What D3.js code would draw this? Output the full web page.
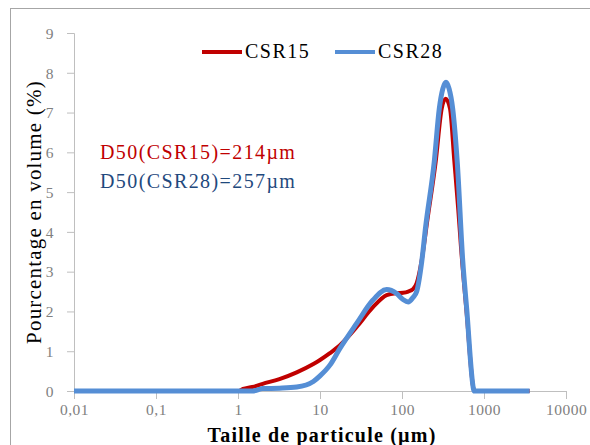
<!DOCTYPE html>
<html>
<head>
<meta charset="utf-8">
<script src="https://cdn.jsdelivr.net/npm/d3@7"></script>
<style>
  body { margin: 0; background: #fff; }
  svg { display: block; }
  svg text { font-family: 'Liberation Serif', 'DejaVu Serif', 'Noto Serif', 'Times New Roman', Times, FreeSerif, serif; }
</style>
</head>
<body>
<div id="chart"></div>
<script>
// particle size (µm) and volume % for each sample
const sizes15 = [0.01, 0.1, 1, 1.15, 1.5, 2, 3.2, 5.2, 8.3, 10, 13.2, 17.5, 28, 44, 65, 86, 103, 119, 136, 151, 174,
                 204, 257, 305, 341, 385, 434, 486, 525, 615, 745, 760, 1000, 3600];
const csr15 = [0, 0, 0, 0.05, 0.1, 0.18, 0.3, 0.47, 0.68, 0.78, 0.95, 1.15, 1.61, 2.1, 2.41, 2.46, 2.47, 2.5, 2.56, 2.71, 3.29,
               4.3, 5.75, 7.1, 7.35, 7.1, 5.8, 4.55, 3.6, 1.95, 0.05, 0, 0, 0];

const sizes28 = [0.01, 0.1, 1, 1.5, 2, 3.2, 5.2, 8.3, 10, 13.2, 17.5, 28, 44, 65, 86, 103, 119, 136, 151, 174,
                 194, 247, 285, 315, 344, 375, 415, 472, 550, 615, 745, 760, 1000, 3600];
const csr28 = [0, 0, 0, 0, 0.06, 0.07, 0.1, 0.24, 0.38, 0.65, 1.07, 1.7, 2.28, 2.55, 2.45, 2.3, 2.24, 2.35, 2.5, 3.25,
               4.12, 5.75, 7.1, 7.6, 7.76, 7.6, 7.1, 5.75, 3.29, 2.07, 0.05, 0, 0, 0];

const seriesNames = ['CSR15', 'CSR28'];
const seriesColors = ['#c00000', '#558ed5'];
const d50Labels = ['D50(CSR15)=214µm', 'D50(CSR28)=257µm'];
const d50Colors = ['#c00000', '#1f497d'];

const xTickValues = [0.01, 0.1, 1, 10, 100, 1000, 10000];
const xTickLabels = ['0,01', '0,1', '1', '10', '100', '1000', '10000'];
const yTicks = [0, 1, 2, 3, 4, 5, 6, 7, 8, 9];

const width = 590, height = 445;
const plotLeft = 74, plotRight = 566, plotTop = 33, plotBottom = 391;

const svg = d3.select('#chart')
              .append('svg')
              .attr('width', width)
              .attr('height', height);

// outer chart frame
svg.append('rect')
   .attr('x', 10.5)
   .attr('y', 8.5)
   .attr('width', 620)
   .attr('height', 480)
   .attr('fill', 'none')
   .attr('stroke', '#a6a6a6');

const xScale = d3.scaleLog()
                 .domain([0.01, 10000])
                 .range([plotLeft, plotRight]);

const yScale = d3.scaleLinear()
                 .domain([0, 9])
                 .range([plotBottom, plotTop]);

const xAxis = d3.axisBottom(xScale)
                .tickValues(xTickValues)
                .tickFormat((d, i) => xTickLabels[i])
                .tickSizeOuter(0)
                .tickSize(8);

const yAxis = d3.axisLeft(yScale)
                .tickValues(yTicks)
                .tickFormat(d3.format('d'))
                .tickSizeOuter(0)
                .tickSize(7)
                .tickPadding(13);

const gx = svg.append('g')
   .attr('transform', `translate(0, ${plotBottom})`)
   .call(xAxis);

const gy = svg.append('g')
   .attr('transform', `translate(${plotLeft}, 0)`)
   .call(yAxis);

[gx, gy].forEach(g => {
  g.attr('font-family', null);
  g.selectAll('path, line').attr('stroke', '#bfbfbf');
  g.selectAll('text')
   .attr('fill', '#7f7f7f')
   .attr('font-size', 15.5)
   .attr('letter-spacing', 0.5);
});
gx.selectAll('text').attr('y', 13).attr('dy', '0.71em');
gy.selectAll('text').attr('dy', '0.34em');

const line = (xs) => d3.line()
               .x((d, i) => xScale(xs[i]))
               .y(d => yScale(d))
               .curve(d3.curveMonotoneX);

svg.append('path')
   .attr('d', line(sizes15)(csr15))
   .attr('fill', 'none')
   .attr('stroke', seriesColors[0])
   .attr('stroke-width', 4);

svg.append('path')
   .attr('d', line(sizes28)(csr28))
   .attr('fill', 'none')
   .attr('stroke', seriesColors[1])
   .attr('stroke-width', 5);

// legend
const legendX = [202, 335];
const legend = svg.selectAll('.legend')
   .data(seriesNames)
   .enter()
   .append('g')
   .attr('class', 'legend')
   .attr('transform', (d, i) => `translate(${legendX[i]}, 52)`);

legend.append('line')
   .attr('x1', 0)
   .attr('x2', 40)
   .attr('stroke', (d, i) => seriesColors[i])
   .attr('stroke-width', 4);

legend.append('text')
   .attr('x', 43)
   .attr('y', 6)
   .attr('font-size', 20)
   .attr('letter-spacing', 1.5)
   .attr('fill', '#000')
   .text(d => d);

// D50 annotations
svg.selectAll('.d50')
   .data(d50Labels)
   .enter()
   .append('text')
   .attr('class', 'd50')
   .attr('x', 100)
   .attr('y', (d, i) => 159 + i * 29)
   .attr('font-size', 20)
   .attr('letter-spacing', 1.4)
   .attr('fill', (d, i) => d50Colors[i])
   .text(d => d);

svg.append('text')
   .attr('transform', 'translate(41, 212) rotate(-90)')
   .attr('text-anchor', 'middle')
   .attr('font-size', 21)
   .attr('letter-spacing', 1.2)
   .text('Pourcentage en volume (%)');

svg.append('text')
   .attr('x', 322)
   .attr('y', 442)
   .attr('text-anchor', 'middle')
   .attr('font-size', 20)
   .attr('letter-spacing', 1.2)
   .attr('font-weight', 'bold')
   .text('Taille de particule (µm)');
</script>
</body>
</html>
